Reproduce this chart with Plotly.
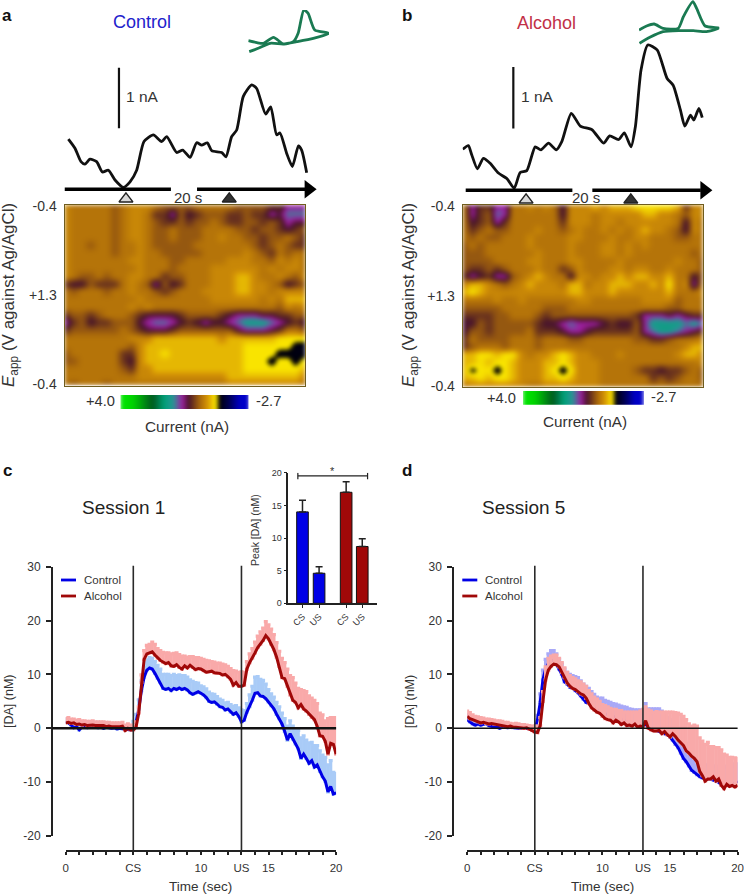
import numpy as np
import plotly.graph_objects as go

W, H = 744, 895
FONT = "Liberation Sans"
INK = "#333333"

# traces above the colour plots: time (s), current (nA)
TRACE_A_T = [0.32, 0.87, 1.37, 1.70, 2.12, 2.67, 3.15, 3.65, 4.20, 4.89, 5.45, 6.00, 6.61, 7.39, 8.08, 8.50, 9.33, 9.83, 10.44, 10.99,
             11.41, 11.88, 12.24, 13.07, 13.43, 13.90, 14.32, 14.87, 15.57, 15.98, 16.73, 17.15, 17.64, 17.92, 18.47, 18.95, 19.45, 19.72, 20.14]
TRACE_A_NA = [0.79, 0.64, 0.42, 0.38, 0.46, 0.42, 0.25, 0.28, 0.12, 0.0, 0.09, 0.28, 0.75, 0.86, 0.75, 0.83, 0.57, 0.61, 0.49, 0.73,
              0.69, 0.73, 0.60, 0.57, 0.50, 0.83, 0.94, 1.49, 1.68, 1.62, 1.20, 1.32, 0.86, 0.89, 0.56, 0.34, 0.68, 0.61, 0.24]
TRACE_B_T = [0.0, 0.47, 0.75, 1.22, 1.72, 2.28, 2.97, 3.67, 4.28, 4.78, 5.33, 6.03, 6.50, 7.14, 7.78, 8.25, 9.03, 9.78,
             10.75, 11.72, 12.22, 12.97, 13.44, 14.0, 14.36, 14.83, 15.39, 16.17, 17.0, 17.5, 18.11, 18.47, 18.94, 19.22, 19.64, 19.92]
TRACE_B_NA = [0.64, 0.70, 0.55, 0.32, 0.49, 0.41, 0.25, 0.16, 0.0, 0.26, 0.29, 0.68, 0.63, 0.74, 0.63, 0.77, 1.23, 1.02,
              0.96, 0.74, 0.86, 0.80, 0.91, 0.68, 1.01, 1.94, 2.35, 2.27, 1.80, 1.69, 1.28, 1.02, 1.20, 1.12, 1.31, 1.16]

# small cyclic voltammograms
CV_A_V = [-0.40, -0.22, -0.08, 0.13, 0.34, 0.55, 0.65, 0.77, 0.86, 1.0, 1.30, 0.97, 0.62, 0.34, 0.06, -0.19, -0.38]
CV_A_NA = [0.08, 0.02, 0.0, 0.18, -0.02, 0.05, 0.30, 1.0, 0.9, 0.4, 0.30, 0.15, 0.05, -0.02, 0.0, -0.15, -0.25]
CV_B_V = [-0.4, -0.24, -0.08, 0.11, 0.43, 0.54, 0.74, 0.82, 1.0, 1.3, 1.03, 0.75, 0.47, 0.11, -0.17, -0.39]
CV_B_NA = [0.0, 0.12, 0.18, 0.05, 0.05, 0.40, 0.85, 0.65, 0.12, 0.06, -0.05, -0.02, -0.02, -0.05, -0.22, -0.40]

LEVELS = {"K": -1.2, "Y": -0.95, "y": -0.72, "g": -0.42, "o": -0.25, "b": -0.03,
          "d": 0.25, "m": 0.5, "p": 0.8, "v": 1.1, "t": 1.5}
HEAT_A = [
    "goooooboggg" "obbbbooooobbbbddppp",
    "goooooboggoddpbmdbbbddbddpmvvv",
    "goooooboggobddbdbbobddbbdbdpmm",
    "goooooboggobbobbboooobbdbbdmdb",
    "gooooobogg" "obbobbboog" "oobbdbbobd",
    "goobooboog" "obbbbboooo" "ooobdbobdd",
    "goooooboog" "oobbbbbooo" "oogobdoboo",
    "gooooooogg" "ooobbooooo" "gggoobgogo",
    "goooooooog" "oooboooogg" "ggggogoggo",
    "gobboboogg" "oodbbooogg" "gyygoogobg",
    "dmmbdddogo" "bpbmdooogg" "gyyggobmdb",
    "oboooboogo" "obdboooggg" "gyyggogggg",
    "ooooooooog" "oooooooogg" "ggggogoyyy",
    "oooooooogo" "gooooooooo" "oooooobgog",
    "dbbdbooobd" "mmmmdbbbbd" "mpppmmddbb",
    "pdbmddbbbm" "pvvpmdmpmm" "pvtttvpmdm",
    "dbbbbbbobd" "mmmdbbbbbb" "bmpppmdoob",
    "oooooooogg" "gyyyyyyyyg" "yyyyyyYYYY",
    "oooooooobg" "yyyyyyyyyy" "yyYYYYYYKK",
    "booooooddg" "yyYyyyyyyy" "yyYYYYKKKK",
    "bbooooodmg" "yyyyyyyyyy" "yyYYYKYYKY",
    "ooooooobdg" "gyyyyyyyyy" "yyYYYYYYYy",
    "ooooooooog" "gggggggggg" "yyyyyyyyyg",
    "oboooboooo" "oooooooooo" "gggggggggo",
]
HEAT_B = [
    "opddppoogo" "gomgggygyy" "yYYYYYydgg",
    "opdbvpoooo" "oomgggoggg" "ggyyggobgg",
    "omdbpdoooo" "oodgggoggo" "ggggggomgo",
    "odbobbooog" "oobogoogog" "ogyggobmgo",
    "obobbooogo" "oooggooogo" "oggooobboo",
    "bobooooogo" "ooogoooggo" "gogooooooo",
    "bbboooooog" "ooogoooggo" "gooooooobo",
    "bbbboooogg" "oooggoooog" "oooooogoob",
    "bddbdbooog" "oodbgooogg" "oggoogooob",
    "dpmdppbogy" "goomggoggy" "gyyggyoomb",
    "gyygobogyg" "ggoyyoggyy" "yggygYogpo",
    "yYyggggggg" "gggyygggyg" "gggggyooog",
    "oooogoogoo" "ooooggoooo" "ooggggbooo",
    "bbbbbooooo" "bbbooooooo" "ooooobbooo",
    "ddddbbooob" "dbbbbbbbbb" "bdpppmpmdd",
    "mmbdbbbbbd" "mmpvpppmdm" "mbpttttvtv",
    "mbbdbbbbod" "ddmppmdddd" "dbpvttvpmd",
    "dobbbbooob" "ooobbooooo" "obbddbooog",
    "dbooobooob" "oooooooooo" "ooooooogyy",
    "yyYYyYYgog" "gyYyggooog" "oooooogyyg",
    "yyYyYYyggg" "yyYygggooo" "ooooooooog",
    "yKYYKYyggg" "yYKYgggooo" "obddmddbob",
    "yyYyYYyggg" "yyYygggooo" "ooodbdboob",
    "ogggggggoo" "gggggggooo" "oooooooooo",
]
CBAR_VALUES = np.linspace(4.0, -2.7, 256)

# position along the scale bar (from the left end), colour
CMAP = [(0.0, "rgb(0,232,0)"), (0.10, "rgb(0,210,0)"), (0.25, "rgb(0,90,30)"), (0.34, "rgb(0,160,120)"),
        (0.41, "rgb(40,150,150)"), (0.48, "rgb(160,30,160)"), (0.53, "rgb(70,20,40)"), (0.62, "rgb(170,105,10)"),
        (0.68, "rgb(215,150,5)"), (0.74, "rgb(250,230,0)"), (0.752, "rgb(250,230,0)"), (0.758, "rgb(0,0,0)"),
        (0.85, "rgb(0,0,90)"), (0.93, "rgb(0,0,200)"), (1.0, "rgb(0,0,200)")]

# [DA] time courses, one value every 0.2 s
TIME = np.round(np.arange(0, 20.01, 0.2), 1)
C_CONTROL = [1.2, 1.0, 0.6, 0.1, 0.3, -0.3, 0.2, 0.3, 0.1, 0.2,
             0.3, 0.2, 0.1, 0.2, 0.0, 0.2, 0.1, 0.0, 0.1, -0.1,
             0.0, -0.1, -0.1, -0.2, -0.3, -0.2, 1.0, 3.5, 7.0, 9.5,
             10.8, 11.2, 11.0, 10.2, 9.3, 8.5, 7.4, 7.2, 7.4, 7.0,
             7.4, 7.2, 7.5, 7.2, 7.4, 7.1, 6.6, 6.3, 6.5, 6.8,
             6.5, 6.2, 5.7, 5.0, 4.8, 4.9, 4.5, 4.0, 3.9, 3.4,
             3.6, 3.0, 2.6, 2.9, 2.2, 1.2, 1.5, 3.0, 4.0, 5.2,
             6.5, 6.6, 6.0, 5.9, 5.5, 4.9, 4.2, 3.6, 2.6, 1.8,
             0.8, -0.6, -2.2, -1.0, -2.0, -2.9, -3.8, -5.6, -4.8, -5.6,
             -6.5, -6.0, -7.2, -6.8, -8.0, -9.0, -9.8, -11.8, -10.8, -12.2, -12.0]
C_CONTROL_ERR = [.5, .6, .6, .7, .5, .7, .6, .5, .8, .5,
                 .6, .6, .6, .5, .6, .5, .5, .5, .4, .5,
                 .5, .5, .4, .5, .5, 1.5, 1.6, 1.8, 1.8, 1.8,
                 1.9, 1.9, 2.0, 2.2, 2.4, 2.5, 2.6, 2.8, 2.6, 2.8,
                 2.6, 2.6, 2.4, 2.6, 2.4, 2.4, 2.4, 2.4, 2.0, 1.6,
                 1.4, 1.5, 1.6, 1.7, 1.6, 1.4, 1.4, 1.4, 1.3, 1.3,
                 1.2, 1.4, 1.5, 1.3, 1.6, 2.2, 1.8, 1.6, 2.2, 2.6,
                 3.0, 3.0, 3.1, 3.0, 2.7, 2.3, 2.2, 2.2, 2.2, 2.2,
                 2.0, 2.4, 2.6, 2.4, 2.4, 2.6, 3.4, 3.8, 3.4, 3.4,
                 3.8, 3.4, 4.0, 3.6, 3.8, 4.0, 4.4, 5.0, 4.8, 4.0, 3.6]
C_ALCOHOL = [1.0, 1.1, 0.9, 1.0, 0.7, 0.8, 0.6, 0.7, 0.5, 0.6,
             0.6, 0.5, 0.5, 0.4, 0.5, 0.3, 0.4, 0.3, 0.3, 0.2,
             0.3, 0.4, -0.4, 0.0, -0.3, -0.3, 0.2, 2.8, 8.5, 12.8,
             13.8, 14.0, 14.2, 13.6, 13.0, 12.6, 12.3, 12.0, 12.2, 11.6,
             11.5, 11.8, 11.3, 11.0, 11.6, 11.2, 11.7, 11.3, 10.9, 11.1,
             11.0, 10.7, 10.4, 10.5, 10.6, 10.3, 10.2, 10.2, 9.9, 10.0,
             9.6, 9.1, 8.0, 8.5, 7.8, 7.8, 8.0, 11.0, 12.2, 13.0,
             14.0, 15.0, 15.6, 16.3, 17.2, 16.6, 15.6, 14.6, 13.2, 11.5,
             9.4, 9.2, 7.8, 6.2, 5.2, 4.8, 3.8, 4.4, 3.6, 3.2,
             2.6, 2.0, 1.6, 0.4, -1.4, -1.5, -2.4, -4.8, -2.8, -3.0, -4.8]
C_ALCOHOL_ERR = [.8, .9, .8, .7, .8, .8, .8, .7, .8, .7,
                 .8, .7, .7, .8, .7, .8, .7, .7, .7, .8,
                 .7, .7, 1.0, .8, .9, .9, 1.0, 1.2, 1.4, 1.6,
                 1.6, 1.6, 1.8, 2.0, 1.8, 1.8, 1.8, 2.0, 1.8, 2.2,
                 2.4, 2.2, 2.4, 2.4, 1.8, 2.0, 1.6, 2.0, 2.2, 2.0,
                 2.0, 2.1, 2.2, 2.0, 1.8, 2.0, 1.9, 1.9, 2.0, 1.8,
                 1.9, 2.0, 2.7, 2.1, 2.6, 2.7, 2.4, 1.4, 1.6, 1.8,
                 2.0, 2.1, 2.3, 2.3, 2.6, 2.6, 2.8, 2.8, 2.7, 2.8,
                 3.6, 3.0, 3.2, 3.6, 4.2, 3.6, 3.6, 2.8, 3.4, 3.6,
                 3.4, 3.6, 3.6, 4.2, 4.2, 4.0, 3.8, 6.6, 4.8, 5.0, 6.8]
D_CONTROL = [1.6, 1.2, 0.8, 0.6, 0.8, 0.6, 0.7, 0.9, 0.5, 0.4,
             0.2, 0.3, 0.0, 0.3, 0.2, 0.1, 0.2, 0.1, 0.1, 0.0,
             0.1, 0.0, 0.0, -0.1, -0.2, -0.2, 1.6, 4.8, 9.0, 11.0,
             12.0, 12.6, 12.6, 11.9, 11.0, 10.0, 8.6, 8.2, 7.6, 7.4,
             7.0, 6.6, 6.0, 5.4, 4.8, 4.6, 4.2, 3.9, 3.4, 3.2,
             3.0, 2.6, 2.6, 2.4, 2.2, 1.9, 1.8, 1.6, 1.4, 1.2,
             1.0, 1.0, 0.8, 0.6, 0.6, 0.4, 0.8, 0.2, 0.0, -0.2,
             -0.4, -0.6, -0.8, -1.0, -1.2, -1.6, -2.2, -3.0, -3.6, -4.6,
             -5.6, -6.2, -7.0, -7.8, -8.2, -8.6, -9.0, -9.2, -9.4, -9.4,
             -9.4, -9.6, -9.8, -10.0, -10.6, -10.8, -10.4, -10.6, -10.4, -10.2, -9.8]
D_CONTROL_ERR = [.9, 1.0, 1.0, .8, .8, .8, .6, .5, .7, .7,
                 .8, .6, .8, .5, .5, .6, .4, .5, .4, .5,
                 .4, .5, .4, .4, .4, .4, .8, 1.6, 1.8, 1.8,
                 1.8, 1.8, 1.8, 1.9, 1.8, 1.9, 2.4, 2.2, 2.4, 2.4,
                 2.6, 2.8, 2.8, 2.8, 3.0, 2.8, 2.6, 2.4, 2.4, 2.4,
                 2.6, 2.6, 2.4, 2.4, 2.4, 2.6, 2.5, 2.5, 2.6, 2.7,
                 2.6, 2.5, 2.6, 2.8, 2.8, 3.0, 3.8, 3.4, 3.6, 3.8,
                 4.0, 4.2, 4.0, 3.6, 3.2, 3.2, 3.4, 3.8, 3.6, 3.6,
                 3.6, 3.4, 3.0, 2.8, 2.6, 2.4, 2.4, 2.4, 2.6, 2.6,
                 2.4, 2.6, 2.8, 2.8, 3.2, 3.4, 3.4, 3.6, 3.4, 3.6, 3.2]
D_ALCOHOL = [2.2, 1.8, 1.6, 1.4, 1.2, 1.0, 1.1, 0.9, 0.8, 0.9,
             0.8, 0.7, 0.7, 0.5, 0.5, 0.3, 0.4, 0.2, 0.2, 0.1,
             0.1, 0.0, 0.1, -0.2, -0.4, -0.7, -0.8, 0.5, 5.0, 9.0,
             10.8, 11.5, 11.9, 11.8, 11.4, 10.4, 9.4, 8.4, 7.8, 7.4,
             7.2, 6.8, 6.4, 6.2, 5.6, 4.6, 3.8, 3.4, 3.0, 2.8,
             2.2, 1.8, 1.6, 1.5, 1.0, 1.5, 1.2, 0.7, 1.0, 0.5,
             0.6, 0.4, 0.8, 0.2, 0.4, 0.3, 1.4, 0.0, -0.3, -0.5,
             -0.5, -0.4, -1.0, -0.6, -1.2, -1.6, -1.0, -1.5, -2.2, -2.8,
             -3.2, -4.2, -4.6, -5.2, -5.6, -6.2, -8.0, -8.8, -9.8, -9.4,
             -9.4, -9.0, -9.8, -9.4, -10.6, -11.2, -10.4, -10.8, -10.6, -10.9, -10.6]
D_ALCOHOL_ERR = [1.0, 1.1, 0.9, 0.8, 0.9, 1.0, 0.8, 0.8, 0.9, 0.7,
                 0.7, 0.7, 0.7, 0.8, 0.6, 0.8, 0.5, 0.6, 0.7, 0.7,
                 0.6, 0.7, 0.5, 0.7, 0.8, 1.1, 1.2, 1.5, 1.8, 2.4,
                 2.2, 1.9, 1.7, 1.8, 1.6, 1.8, 1.8, 2.0, 2.0, 2.0,
                 2.0, 2.0, 2.2, 2.0, 2.2, 2.4, 2.6, 2.4, 2.4, 2.2,
                 2.2, 2.4, 2.4, 2.2, 2.5, 2.0, 2.1, 2.6, 2.0, 2.5,
                 2.4, 2.6, 2.2, 2.8, 2.8, 3.2, 2.6, 3.4, 3.5, 3.4,
                 3.6, 3.4, 4.0, 3.6, 4.2, 4.6, 4.0, 4.4, 5.0, 5.4,
                 5.4, 5.8, 5.4, 5.6, 6.2, 6.6, 6.2, 6.4, 6.8, 6.8,
                 6.0, 5.6, 6.2, 5.8, 6.6, 6.4, 5.4, 5.4, 5.2, 5.4, 5.0]

# peak [DA] inset
INSET_X = [1, 2, 3.63, 4.6]
INSET_LABELS = ["CS", "US", "CS", "US"]
INSET_PEAK = [14.0, 4.6, 17.0, 8.7]
INSET_ERR = [1.8, 1.0, 1.6, 1.2]

X_TICKS = [0, 5, 10, 13, 15, 20]
X_LABELS = ["0", "CS", "10", "US", "15", "20"]
Y_TICKS = [-20, -10, 0, 10, 20, 30]
Y_LABELS = ["-20", "-10", "0", "10", "20", "30"]

BLUE = "#0000e6"
RED = "#a00808"
LIGHT_BLUE = "#a9cbf7"
LAVENDER = "#a9a9f7"
PINK = "#f9a9a9"
GREEN = "#1a7a52"


def px(x):
    return x / W


def py(y):
    return 1 - y / H


fig = go.Figure()
axes = {}
notes = []
shapes = []


def add_axes(n, x0, x1, y0, y1, xr, yr, **kw):
    suffix = "" if n == 1 else str(n)
    xkw = dict(domain=[px(x0), px(x1)], range=xr, anchor="y" + suffix, visible=False)
    ykw = dict(domain=[py(y1), py(y0)], range=yr, anchor="x" + suffix, visible=False)
    xkw.update(kw.get("xkw", {}))
    ykw.update(kw.get("ykw", {}))
    axes["xaxis" + suffix] = xkw
    axes["yaxis" + suffix] = ykw
    return dict(xaxis="x" + suffix, yaxis="y" + suffix)


def note(text, x, y, size=13, color=INK, anchor="center", angle=0):
    notes.append(dict(text=text, x=px(x), y=py(y), xref="paper", yref="paper", showarrow=False,
                      xanchor=anchor, yanchor="middle", textangle=angle, font=dict(size=size, color=color)))


def line(ax, x, y, color="#111111", width=2.5, smooth=False):
    style = dict(color=color, width=width)
    if smooth:
        style.update(shape="spline", smoothing=0.6)
    fig.add_trace(go.Scatter(x=x, y=y, mode="lines", line=style, hoverinfo="skip", cliponaxis=False, **ax))


def heat_panel(n, grid, x0, x1, y0, y1):
    rows, cols = len(grid), len(grid[0])
    z = [[LEVELS[c] for c in row] for row in grid]
    frame = dict(visible=True, showline=True, mirror=True, linecolor="#6f5c1e", linewidth=1, showgrid=False, zeroline=False)
    # range stops just inside the cells so the soft edge of the picture gets clipped
    ax = add_axes(n, x0, x1, y0, y1, [0.25, 19.75], [0.985, 0.015],
                  xkw=dict(frame, showticklabels=False, ticks=""),
                  ykw=dict(frame, tickmode="array", tickvals=[0.02, 0.5, 0.98], ticktext=["-0.4", "+1.3", "-0.4"],
                           ticks="", ticklabelstandoff=4, tickfont=dict(size=14, color=INK)))
    fig.add_trace(go.Heatmap(z=z, x=[(j + 0.5) * 20 / cols for j in range(cols)], y=[(i + 0.5) / rows for i in range(rows)],
                             coloraxis="coloraxis", zsmooth="best", hoverinfo="skip", **ax))


def cbar_panel(n, x0, x1, y0, y1):
    ax = add_axes(n, x0, x1, y0, y1, [4.0, -2.7], [0, 1])
    fig.add_trace(go.Heatmap(z=[CBAR_VALUES, CBAR_VALUES], x=CBAR_VALUES, y=[0, 1], coloraxis="coloraxis", hoverinfo="skip", **ax))


def trace_panel(n, left, base, t, na, cv_ax, cv_v, cv_na, scale_t, scale_y, bars, head_t, tri_t):
    ax = add_axes(n, left, left + 22.5 * 12.025, 40, 204, [0, 22.5], [(base - 204) / 61, (base - 40) / 61])
    line(ax, t, na, width=2.8, smooth=True)
    line(ax, [scale_t, scale_t], scale_y, width=2.2)
    for b in bars:
        line(ax, b, [-0.033, -0.033], color="#000000", width=3.4)
    fig.add_trace(go.Scatter(x=[head_t], y=[-0.033], mode="markers", cliponaxis=False, hoverinfo="skip",
                             marker=dict(symbol="triangle-right", size=16, color="#000000"), **ax))
    fig.add_trace(go.Scatter(x=tri_t, y=[-0.19, -0.19], mode="markers", cliponaxis=False, hoverinfo="skip",
                             marker=dict(symbol="triangle-up", size=12, color=["#d8d8d8", "#333333"],
                                         line=dict(color="#222222", width=1.5)), **ax))
    line(cv_ax, cv_v, cv_na, color=GREEN, width=2.8, smooth=True)


def da_panel(n, left, spine, control, control_err, alcohol, alcohol_err, control_band, zero_width):
    top, bottom, axis_y = 566.7, 836.0, 850.7
    tick = dict(showgrid=False, zeroline=False, ticks="outside", showline=True,
                linecolor="#222222", linewidth=2, tickcolor="#222222", tickwidth=1.5)
    ax = add_axes(n, left, left + 270.4, top, bottom, [0, 20], [-20, 30],
                  xkw=dict(tick, visible=True, anchor="free", position=py(axis_y), tickmode="array", tickvals=X_TICKS,
                           ticktext=X_LABELS, ticklen=3, ticklabelstandoff=3, tickfont=dict(size=11.5, color=INK),
                           minor=dict(dtick=1, ticks="outside", ticklen=3, tickcolor="#222222", tickwidth=1.5)),
                  ykw=dict(tick, visible=True, anchor="free", position=px(spine), tickmode="array",
                           tickvals=Y_TICKS, ticktext=Y_LABELS, ticklen=5, ticklabelstandoff=3,
                           tickfont=dict(size=12, color=INK)))
    for name, mean, err, dark, pale in [("Control", control, control_err, BLUE, control_band),
                                        ("Alcohol", alcohol, alcohol_err, RED, PINK)]:
        fig.add_trace(go.Scatter(x=TIME, y=mean, mode="lines", name=name, line=dict(color=dark, width=3), hoverinfo="skip",
                                 error_y=dict(type="data", array=err, symmetric=False, arrayminus=[0] * len(err),
                                              color=pale, thickness=3.2, width=2), **ax))
    xname, yname = ax["xaxis"], ax["yaxis"]
    # CS and US markers run from the top of the y axis down to the time axis
    for v in (5, 13):
        shapes.append(dict(type="line", xref=xname, yref="paper", x0=v, x1=v, y0=py(axis_y), y1=py(top - 1),
                           line=dict(color="#2a2a2a", width=1.6)))
    shapes.append(dict(type="line", xref="paper", yref=yname, x0=px(spine), x1=px(left + 270.4), y0=0, y1=0,
                       line=dict(color="#111111", width=zero_width)))
    # legend drawn by hand, the sample lines are short
    for y, label, c in [(580, "Control", BLUE), (596, "Alcohol", RED)]:
        shapes.append(dict(type="line", xref="paper", yref="paper", x0=px(spine + 9), x1=px(spine + 24), y0=py(y), y1=py(y),
                           line=dict(color=c, width=2.8)))
        note(label, spine + 30, y, size=11.5, anchor="left")
    note("Time (sec)", left + 135, 886, size=13.5)
    note("[DA] (nM)", spine - 43, 702, size=12.5, angle=-90)


heat_panel(1, HEAT_A, 64.5, 305, 205, 385.5)
heat_panel(2, HEAT_B, 462.7, 703, 205, 386.7)
cbar_panel(3, 120.5, 248.5, 395, 409)
cbar_panel(4, 523, 644, 391, 404.7)

cv_a = add_axes(5, 248.3, 329, 10, 60, [-0.4, 1.3], [(43.3 - 60) / 33.3, (43.3 - 10) / 33.3])
cv_b = add_axes(6, 639, 719.3, 0, 50, [-0.4, 1.3], [(30 - 50) / 33.3, (30 - 0) / 33.3])
trace_panel(7, 64.5, 187.3, TRACE_A_T, TRACE_A_NA, cv_a, CV_A_V, CV_A_NA, 4.53, [0.97, 1.96],
            [[0, 8.85], [11.02, 20.0]], 20.3, [5.11, 13.7])
trace_panel(8, 462.7, 188.3, TRACE_B_T, TRACE_B_NA, cv_b, CV_B_V, CV_B_NA, 4.21, [0.98, 1.99],
            [[0.25, 9.12], [10.78, 19.8]], 20.1, [5.27, 13.98])

da_panel(9, 65.7, 52, C_CONTROL, C_CONTROL_ERR, C_ALCOHOL, C_ALCOHOL_ERR, LIGHT_BLUE, 2.6)
da_panel(10, 467.2, 453.3, D_CONTROL, D_CONTROL_ERR, D_ALCOHOL, D_ALCOHOL_ERR, LAVENDER, 1.6)

# inset bars
inset = add_axes(11, 288.3, 376.7, 472.7, 603.3, [0.145, 5.47], [0, 20],
                 xkw=dict(visible=True, showline=True, linecolor="#222222", linewidth=1.5, showgrid=False, zeroline=False,
                          tickmode="array", tickvals=INSET_X, ticktext=INSET_LABELS, tickangle=-45, ticks="outside", ticklen=3,
                          tickcolor="#222222", tickfont=dict(size=9, color=INK)),
                 ykw=dict(visible=True, showline=True, linecolor="#222222", linewidth=1.5, showgrid=False, zeroline=False,
                          tickmode="array", tickvals=[0, 5, 10, 15, 20], ticks="outside", ticklen=3, tickcolor="#222222",
                          tickfont=dict(size=9, color=INK)))
fig.add_trace(go.Bar(x=INSET_X, y=INSET_PEAK, width=0.7, marker=dict(color=[BLUE, BLUE, RED, RED], line=dict(color="#111111", width=1)),
                     error_y=dict(type="data", array=INSET_ERR, symmetric=False, arrayminus=[0, 0, 0, 0],
                                  color="#222222", thickness=1.5, width=3.5), hoverinfo="skip", **inset))
line(inset, [INSET_X[0] - 0.28, INSET_X[3] + 0.32], [19.5, 19.5], color="#222222", width=1.2)
for v in (INSET_X[0] - 0.28, INSET_X[3] + 0.32):
    line(inset, [v, v], [19.0, 20.0], color="#222222", width=1.2)
note("*", 332, 471, size=11)
note("Peak [DA] (nM)", 255, 530, size=10.5, angle=-90)

note("<b>a</b>", 7, 16, size=17, color="#111111")
note("<b>b</b>", 407, 16, size=17, color="#111111")
note("<b>c</b>", 7, 470, size=17, color="#111111")
note("<b>d</b>", 407, 470, size=17, color="#111111")
note("Control", 142, 22, size=18, color="#2222cc")
note("Alcohol", 546, 23, size=18, color="#c23048")
note("1 nA", 142, 96, size=15.5)
note("1 nA", 537, 97, size=15.5)
note("20 s", 188, 197, size=15)
note("20 s", 586, 197, size=15)
note("<i>E</i><sub>app</sub> (V against Ag/AgCl)", 10, 295, size=17, angle=-90)
note("<i>E</i><sub>app</sub> (V against Ag/AgCl)", 410, 295, size=17, angle=-90)
note("+4.0", 117, 401, size=14.7, anchor="right")
note("-2.7", 254, 401, size=14.7, anchor="left")
note("Current (nA)", 187, 426, size=15.3)
note("+4.0", 518, 398, size=14.7, anchor="right")
note("-2.7", 649, 397, size=14.7, anchor="left")
note("Current (nA)", 585, 421, size=15.3)
note("Session 1", 123, 507, size=19, color="#222222")
note("Session 5", 523, 507, size=19, color="#222222")

fig.update_layout(
    width=W, height=H, autosize=False, margin=dict(l=0, r=0, t=0, b=0, autoexpand=False),
    paper_bgcolor="white", plot_bgcolor="rgba(0,0,0,0)", showlegend=False,
    font=dict(family=FONT, color=INK),
    coloraxis=dict(cmin=-2.7, cmax=4.0, showscale=False,
                   colorscale=[[round(1 - f, 4), c] for f, c in reversed(CMAP)]),
    annotations=notes, shapes=shapes, **axes,
)

# the reference colour plots are soft, plateaus of equal cells look boxy without this
soften = ("document.body.style.margin='0';"
          "document.querySelectorAll('.hm image').forEach(function(im){im.style.filter='blur(2px)';});")
fig.write_html("out.html", config=dict(displayModeBar=False), post_script=soften)
